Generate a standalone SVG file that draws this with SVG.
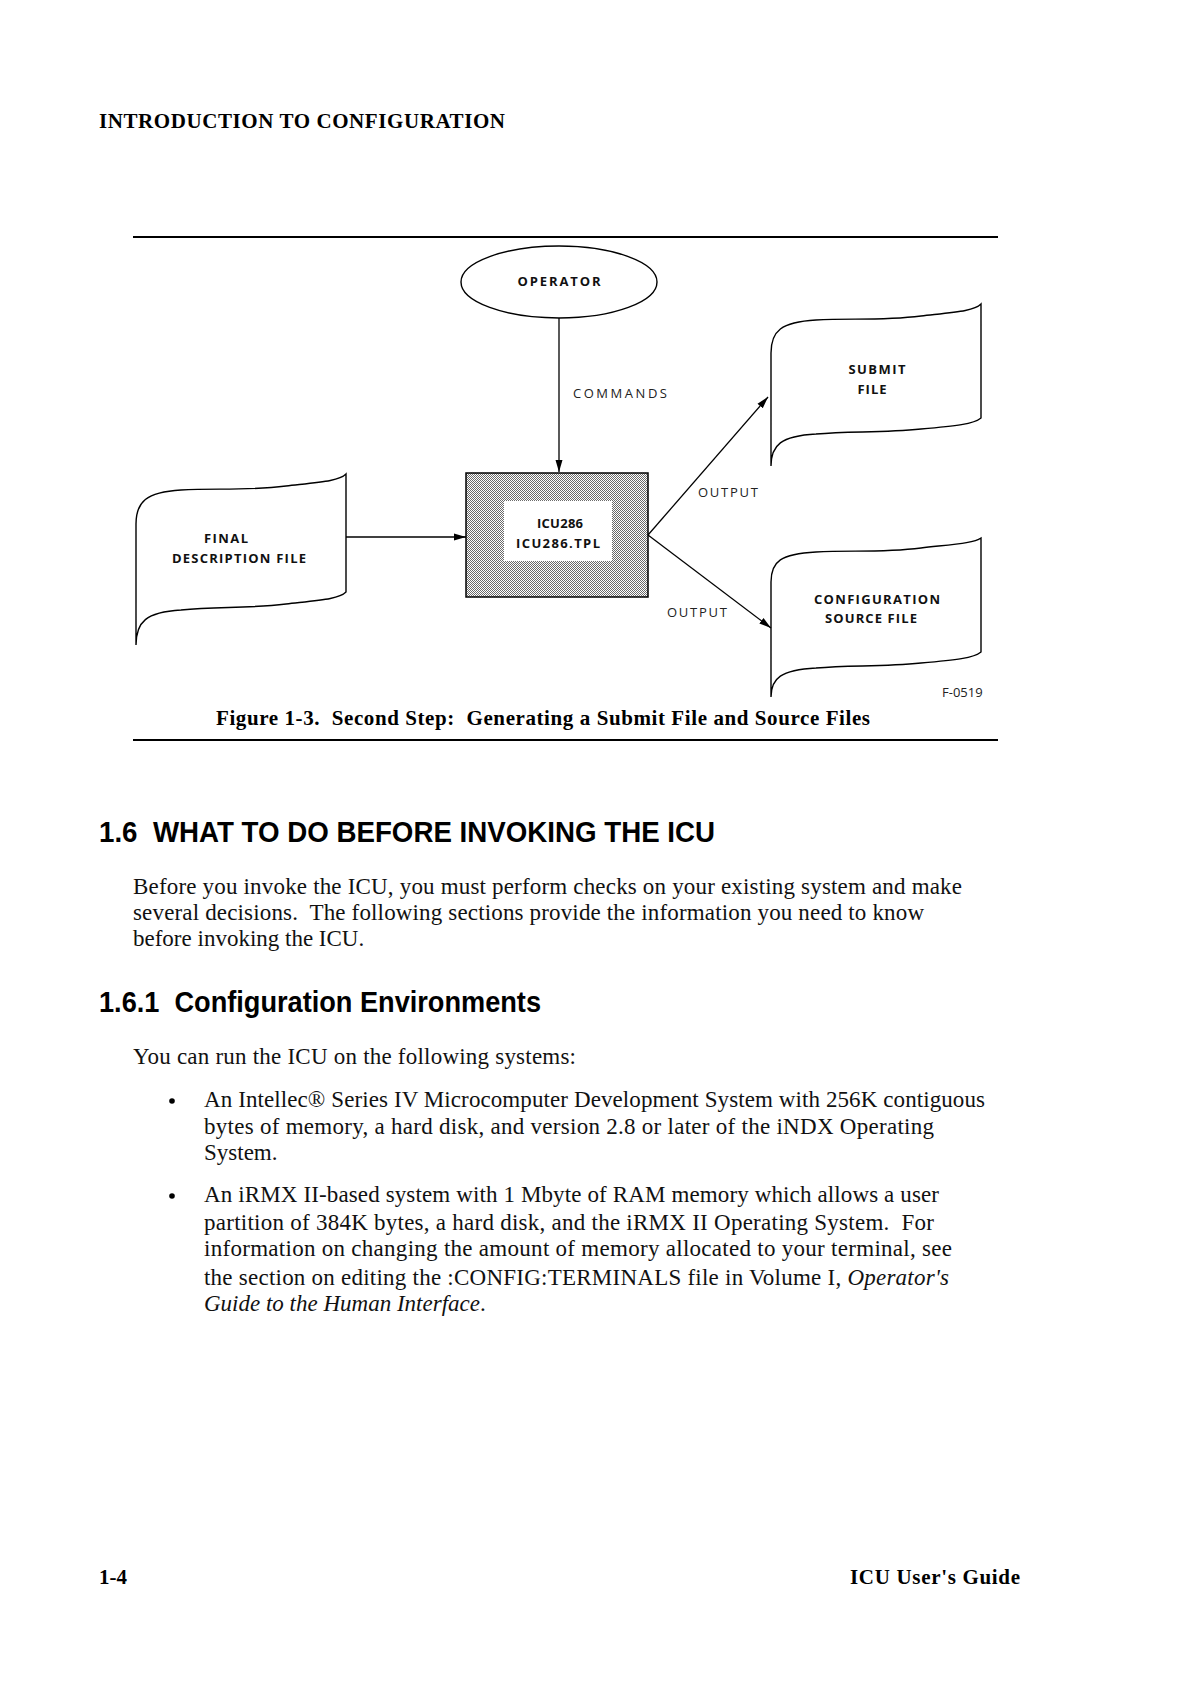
<svg xmlns="http://www.w3.org/2000/svg" width="1190" height="1683" viewBox="0 0 1190 1683">
<style>
  .rule{stroke:#000;stroke-width:2;}
  .shape{fill:#fff;stroke:#000;stroke-width:1.4;}
  .conn{stroke:#000;stroke-width:1.3;fill:none;}
  .lbl{font-family:"Open Sans","DejaVu Sans",sans-serif;font-weight:bold;font-size:13px;fill:#111;text-anchor:middle;}
  .thin{font-family:"Open Sans","DejaVu Sans",sans-serif;font-weight:400;font-size:13px;fill:#222;}
  .serif{font-family:"Liberation Serif","Times New Roman",serif;font-size:23px;fill:#111;white-space:pre;}
  .serifb{font-family:"Liberation Serif","Times New Roman",serif;font-weight:bold;font-size:21px;fill:#000;white-space:pre;}
  .head{font-family:"Liberation Sans",Arial,sans-serif;font-weight:bold;font-size:29px;fill:#000;white-space:pre;}
</style>
<defs>
  <pattern id="stipple" width="2" height="2" patternUnits="userSpaceOnUse">
    <rect width="2" height="2" fill="#fff"/>
    <rect width="1" height="1" fill="#6a6a6a"/>
    <rect x="1" y="1" width="1" height="1" fill="#6a6a6a"/>
  </pattern>
  <marker id="arr" markerUnits="userSpaceOnUse" markerWidth="13" markerHeight="9" refX="12" refY="4.5" orient="auto">
    <path d="M0,1 L12,4.5 L0,8 Z" fill="#000"/>
  </marker>
</defs>
<rect width="1190" height="1683" fill="#fff"/>

<text class="serifb" x="99" y="128" textLength="406">INTRODUCTION TO CONFIGURATION</text>

<line class="rule" x1="133" y1="237" x2="998" y2="237"/>

<g id="operator">
  <ellipse class="shape" cx="559" cy="282" rx="98" ry="36"/>
  <text class="lbl" x="559" y="286" textLength="83">OPERATOR</text>
</g>

<g id="icu286">
  <rect x="466" y="473" width="182" height="124" fill="url(#stipple)" stroke="#000" stroke-width="1.5"/>
  <rect x="504" y="501" width="108" height="60" fill="#fff"/>
  <text class="lbl" x="560" y="528" font-size="14" textLength="46">ICU286</text>
  <text class="lbl" x="558" y="548" font-size="14" textLength="84">ICU286.TPL</text>
</g>

<g id="final-description-file">
  <path class="shape" d="M136,524 C136,502 146,492 181,490 C216,488 246,491 286,486 C321,482 339,481 346,474 L346,592 C339,599 321,600 286,604 C246,609 216,606 181,610 C146,612 136,622 136,645 Z"/>
  <text class="lbl" x="226" y="543" textLength="44">FINAL</text>
  <text class="lbl" x="239" y="563" textLength="134">DESCRIPTION FILE</text>
</g>

<g id="submit-file">
  <path class="shape" d="M771,353 C771,331 781,322 816,320 C851,318 881,321 921,316 C956,312 974,311 981,304 L981,418 C974,424 956,426 921,429 C881,433 851,431 816,434 C781,436 771,445 771,466 Z"/>
  <text class="lbl" x="877" y="374" textLength="57">SUBMIT</text>
  <text class="lbl" x="872" y="394" textLength="29">FILE</text>
</g>

<g id="configuration-source-file">
  <path class="shape" d="M771,582 C771,561 781,554 816,552 C851,550 881,553 921,548 C956,544 974,543 981,538 L981,652 C974,658 956,660 921,663 C881,667 851,665 816,668 C781,670 771,678 771,697 Z"/>
  <text class="lbl" x="877" y="604" textLength="126">CONFIGURATION</text>
  <text class="lbl" x="871" y="623" textLength="92">SOURCE FILE</text>
</g>

<g id="connectors">
  <line class="conn" x1="559" y1="318" x2="559" y2="472" marker-end="url(#arr)"/>
  <line class="conn" x1="346" y1="537" x2="466" y2="537" stroke-width="2" marker-end="url(#arr)"/>
  <line class="conn" x1="648" y1="535" x2="768" y2="397" marker-end="url(#arr)"/>
  <line class="conn" x1="648" y1="535" x2="771" y2="628" marker-end="url(#arr)"/>
  <text class="thin" x="573" y="398" textLength="94">COMMANDS</text>
  <text class="thin" x="698" y="497" textLength="60">OUTPUT</text>
  <text class="thin" x="667" y="617" textLength="60">OUTPUT</text>
</g>

<text class="thin" x="942" y="697" font-size="9">F-0519</text>

<text class="serifb" x="216" y="725" textLength="654">Figure 1-3.  Second Step:  Generating a Submit File and Source Files</text>
<line class="rule" x1="133" y1="740" x2="998" y2="740"/>

<text class="head" x="99" y="842" textLength="616" lengthAdjust="spacingAndGlyphs">1.6  WHAT TO DO BEFORE INVOKING THE ICU</text>

<text class="serif" x="133" y="894" textLength="829">Before you invoke the ICU, you must perform checks on your existing system and make</text>
<text class="serif" x="133" y="920" textLength="791">several decisions.  The following sections provide the information you need to know</text>
<text class="serif" x="133" y="946">before invoking the ICU.</text>

<text class="head" x="99" y="1012" textLength="442" lengthAdjust="spacingAndGlyphs">1.6.1  Configuration Environments</text>

<text class="serif" x="133" y="1064" textLength="443">You can run the ICU on the following systems:</text>

<circle cx="172" cy="1101" r="2.8" fill="#000"/>
<text class="serif" x="204" y="1107" textLength="781">An Intellec® Series IV Microcomputer Development System with 256K contiguous</text>
<text class="serif" x="204" y="1134" textLength="730">bytes of memory, a hard disk, and version 2.8 or later of the iNDX Operating</text>
<text class="serif" x="204" y="1160">System.</text>

<circle cx="172" cy="1196" r="2.8" fill="#000"/>
<text class="serif" x="204" y="1202" textLength="735">An iRMX II-based system with 1 Mbyte of RAM memory which allows a user</text>
<text class="serif" x="204" y="1230" textLength="730">partition of 384K bytes, a hard disk, and the iRMX II Operating System.  For</text>
<text class="serif" x="204" y="1256" textLength="748">information on changing the amount of memory allocated to your terminal, see</text>
<text class="serif" x="204" y="1285" textLength="745">the section on editing the :CONFIG:TERMINALS file in Volume I, <tspan font-style="italic">Operator's</tspan></text>
<text class="serif" x="204" y="1311" font-style="italic">Guide to the Human Interface<tspan font-style="normal">.</tspan></text>

<text class="serifb" x="99" y="1584">1-4</text>
<text class="serifb" x="1020" y="1584" text-anchor="end" textLength="170">ICU User's Guide</text>
</svg>
